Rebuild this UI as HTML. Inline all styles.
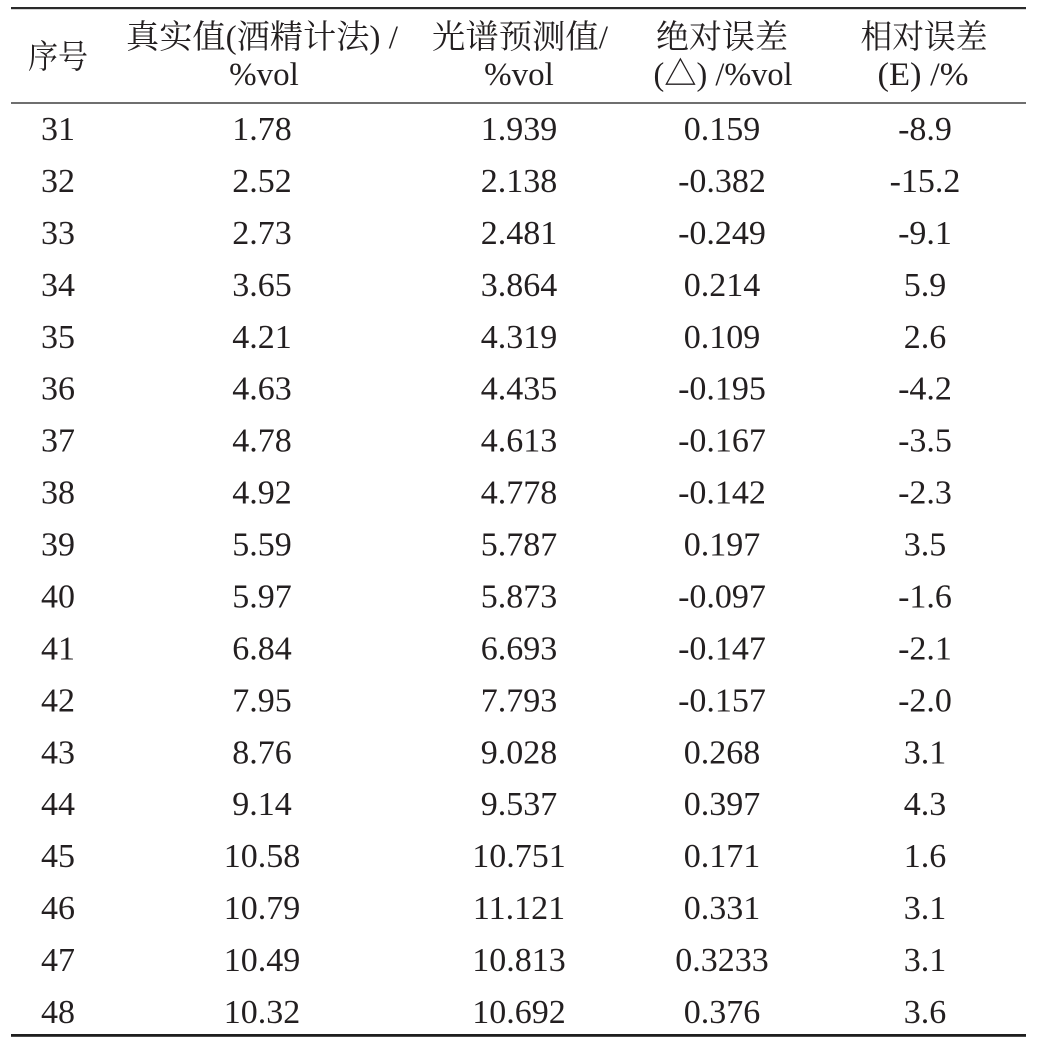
<!DOCTYPE html>
<html>
<head>
<meta charset="utf-8">
<style>
  html, body { margin:0; padding:0; background:#fff; }
  svg { display:block; }
  text { font-family: "Liberation Serif", "Noto Serif CJK SC", "DejaVu Serif", serif; fill:#231f20; }
  .h { font-size:33px; }
  .d { font-size:34px; }
</style>
</head>
<body>
<svg width="1043" height="1053" viewBox="0 0 1043 1053" xmlns="http://www.w3.org/2000/svg">
  <rect x="0" y="0" width="1043" height="1053" fill="#fff"/>
  <!-- rules -->
  <rect x="11" y="7" width="1015" height="2.2" fill="#2a2a2a"/>
  <rect x="11" y="102" width="1015" height="2" fill="#6f6f6f"/>
  <rect x="11" y="1034" width="1015" height="2.8" fill="#1e1e1e"/>

  <!-- header -->
  <g class="h" text-anchor="middle">
    <text x="58" y="68" textLength="60" lengthAdjust="spacingAndGlyphs">序号</text>
    <text x="262" y="48" textLength="272" lengthAdjust="spacingAndGlyphs">真实值(酒精计法) /</text>
    <text x="264" y="85">%vol</text>
    <text x="520" y="48" textLength="176" lengthAdjust="spacingAndGlyphs">光谱预测值/</text>
    <text x="519" y="85">%vol</text>
    <text x="722" y="48" textLength="132" lengthAdjust="spacingAndGlyphs">绝对误差</text>
    <text x="723" y="85" textLength="139" lengthAdjust="spacingAndGlyphs">(△) /%vol</text>
    <text x="924" y="48" textLength="127" lengthAdjust="spacingAndGlyphs">相对误差</text>
    <text x="923" y="85" textLength="91" lengthAdjust="spacingAndGlyphs">(E) /%</text>
  </g>

  <!-- data rows -->
  <g class="d" text-anchor="middle">
    <text x="58" y="140">31</text><text x="262" y="140">1.78</text><text x="519" y="140">1.939</text><text x="722" y="140">0.159</text><text x="925" y="140">-8.9</text>
    <text x="58" y="191.94">32</text><text x="262" y="191.94">2.52</text><text x="519" y="191.94">2.138</text><text x="722" y="191.94">-0.382</text><text x="925" y="191.94">-15.2</text>
    <text x="58" y="243.88">33</text><text x="262" y="243.88">2.73</text><text x="519" y="243.88">2.481</text><text x="722" y="243.88">-0.249</text><text x="925" y="243.88">-9.1</text>
    <text x="58" y="295.82">34</text><text x="262" y="295.82">3.65</text><text x="519" y="295.82">3.864</text><text x="722" y="295.82">0.214</text><text x="925" y="295.82">5.9</text>
    <text x="58" y="347.76">35</text><text x="262" y="347.76">4.21</text><text x="519" y="347.76">4.319</text><text x="722" y="347.76">0.109</text><text x="925" y="347.76">2.6</text>
    <text x="58" y="399.7">36</text><text x="262" y="399.7">4.63</text><text x="519" y="399.7">4.435</text><text x="722" y="399.7">-0.195</text><text x="925" y="399.7">-4.2</text>
    <text x="58" y="451.64">37</text><text x="262" y="451.64">4.78</text><text x="519" y="451.64">4.613</text><text x="722" y="451.64">-0.167</text><text x="925" y="451.64">-3.5</text>
    <text x="58" y="503.58">38</text><text x="262" y="503.58">4.92</text><text x="519" y="503.58">4.778</text><text x="722" y="503.58">-0.142</text><text x="925" y="503.58">-2.3</text>
    <text x="58" y="555.52">39</text><text x="262" y="555.52">5.59</text><text x="519" y="555.52">5.787</text><text x="722" y="555.52">0.197</text><text x="925" y="555.52">3.5</text>
    <text x="58" y="607.46">40</text><text x="262" y="607.46">5.97</text><text x="519" y="607.46">5.873</text><text x="722" y="607.46">-0.097</text><text x="925" y="607.46">-1.6</text>
    <text x="58" y="659.4">41</text><text x="262" y="659.4">6.84</text><text x="519" y="659.4">6.693</text><text x="722" y="659.4">-0.147</text><text x="925" y="659.4">-2.1</text>
    <text x="58" y="711.34">42</text><text x="262" y="711.34">7.95</text><text x="519" y="711.34">7.793</text><text x="722" y="711.34">-0.157</text><text x="925" y="711.34">-2.0</text>
    <text x="58" y="763.28">43</text><text x="262" y="763.28">8.76</text><text x="519" y="763.28">9.028</text><text x="722" y="763.28">0.268</text><text x="925" y="763.28">3.1</text>
    <text x="58" y="815.22">44</text><text x="262" y="815.22">9.14</text><text x="519" y="815.22">9.537</text><text x="722" y="815.22">0.397</text><text x="925" y="815.22">4.3</text>
    <text x="58" y="867.16">45</text><text x="262" y="867.16">10.58</text><text x="519" y="867.16">10.751</text><text x="722" y="867.16">0.171</text><text x="925" y="867.16">1.6</text>
    <text x="58" y="919.1">46</text><text x="262" y="919.1">10.79</text><text x="519" y="919.1">11.121</text><text x="722" y="919.1">0.331</text><text x="925" y="919.1">3.1</text>
    <text x="58" y="971.04">47</text><text x="262" y="971.04">10.49</text><text x="519" y="971.04">10.813</text><text x="722" y="971.04">0.3233</text><text x="925" y="971.04">3.1</text>
    <text x="58" y="1023">48</text><text x="262" y="1023">10.32</text><text x="519" y="1023">10.692</text><text x="722" y="1023">0.376</text><text x="925" y="1023">3.6</text>
  </g>
</svg>
</body>
</html>
